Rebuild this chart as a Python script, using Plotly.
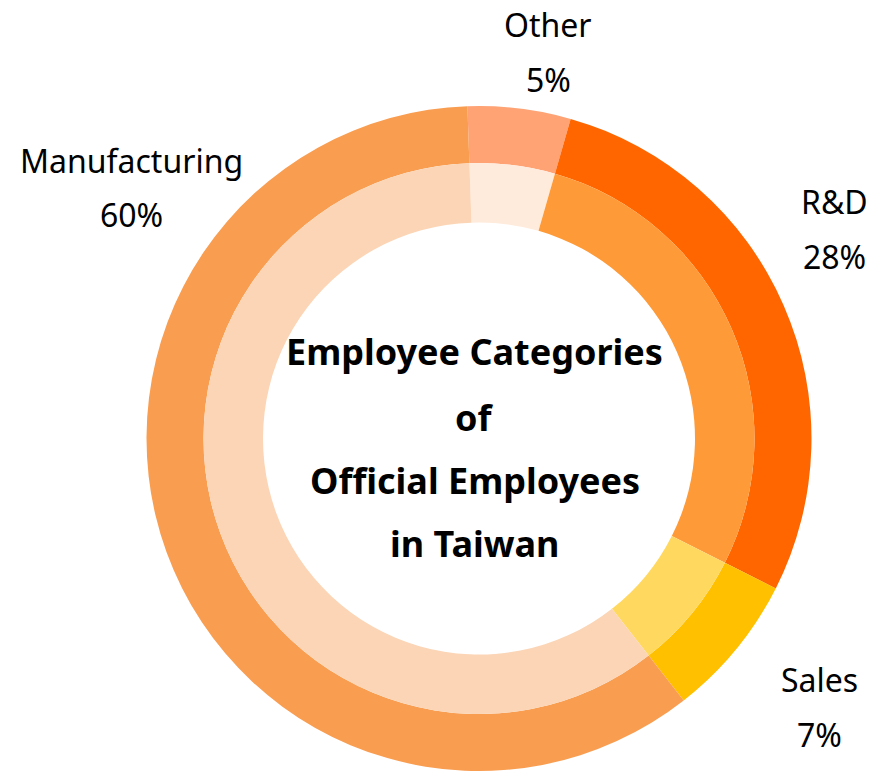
import plotly.graph_objects as go

categories = ["Other", "R&D", "Sales", "Manufacturing"]
values = [5, 28, 7, 60]
outer_colors = ["#FFA375", "#FF6600", "#FFC000", "#F99D51"]
inner_colors = ["#FFEBDC", "#FE9A37", "#FFD860", "#FBD5B5"]
title_lines = ["Employee Categories", "of", "Official Employees", "in Taiwan"]

W, H = 888, 771
cx, cy = 479, 438.5          # pixel centre of the rings (from top-left)
r_out, r_mid, r_in = 332.5, 275.5, 216

def dom(r):
    return dict(x=[(cx - r) / W, (cx + r) / W],
                y=[(H - cy - r) / H, (H - cy + r) / H])

fig = go.Figure()
fig.add_trace(go.Pie(labels=categories, values=values, sort=False,
                     direction="clockwise", rotation=-2,
                     hole=r_mid / r_out, domain=dom(r_out),
                     marker=dict(colors=outer_colors, line=dict(color="white", width=0)),
                     textinfo="none", hoverinfo="label+percent", showlegend=False))
fig.add_trace(go.Pie(labels=categories, values=values, sort=False,
                     direction="clockwise", rotation=-2,
                     hole=r_in / r_mid, domain=dom(r_mid),
                     marker=dict(colors=inner_colors, line=dict(color="white", width=0)),
                     textinfo="none", hoverinfo="label+percent", showlegend=False))

total = sum(values)
label_pos = {  # pixel centres for (name line, percent line)
    "Other": (548, 25, 80),
    "R&D": (834, 202, 257),
    "Sales": (819, 679, 734),
    "Manufacturing": (131, 160, 214),
}
annotations = []
lab_font = dict(family="Noto Sans", size=32, color="#000000")
for cat, v in zip(categories, values):
    x, y1, y2 = label_pos[cat]
    pct = f"{round(v / total * 100)}%"
    for txt, yy in ((cat, y1), (pct, y2)):
        annotations.append(dict(text=txt, x=x / W, y=1 - yy / H, xref="paper", yref="paper",
                                xanchor="center", yanchor="middle", showarrow=False,
                                font=lab_font))

title_y = [352, 417, 480, 543]
for txt, yy in zip(title_lines, title_y):
    annotations.append(dict(text=f"<b>{txt}</b>", x=474.5 / W, y=1 - yy / H,
                            xref="paper", yref="paper", xanchor="center", yanchor="middle",
                            showarrow=False,
                            font=dict(family="Noto Sans", size=36, color="#000000")))

fig.update_layout(width=W, height=H, margin=dict(l=0, r=0, t=0, b=0),
                  paper_bgcolor="white", plot_bgcolor="white",
                  annotations=annotations)
fig.write_html("out.html", config={"displayModeBar": False},
               post_script="document.body.style.margin='0';document.body.style.overflow='hidden';")
